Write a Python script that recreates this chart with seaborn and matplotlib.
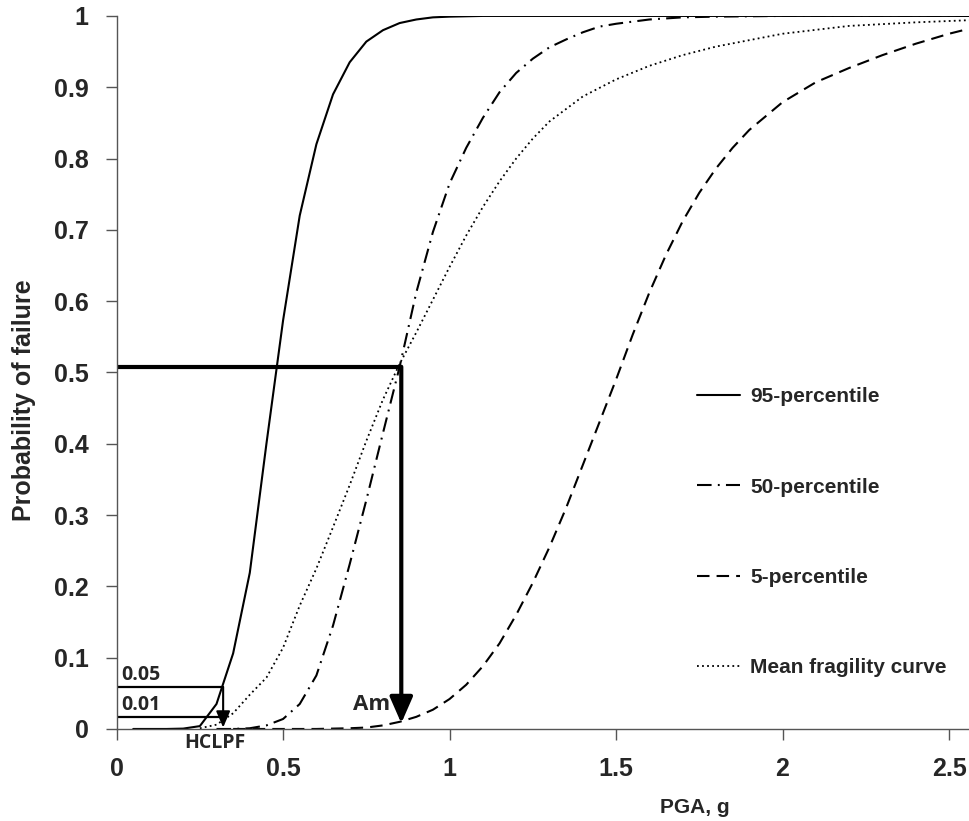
import pandas as pd
import matplotlib
matplotlib.use("Agg")
import matplotlib.pyplot as plt
from matplotlib.ticker import FuncFormatter
import seaborn as sns

# curve values (PGA in g, probability of failure)
pga_95 = [0.05, 0.10, 0.15, 0.20, 0.25, 0.30, 0.35, 0.40, 0.45, 0.50, 0.55, 0.60,
          0.65, 0.70, 0.75, 0.80, 0.85, 0.90, 0.95, 1.00, 1.10, 1.50, 2.00, 2.56]
p_95 = [0.0, 0.0, 0.0, 0.0005, 0.004, 0.035, 0.106, 0.219, 0.40, 0.573, 0.72, 0.82,
        0.89, 0.935, 0.964, 0.98, 0.99, 0.995, 0.998, 0.999, 1.0, 1.0, 1.0, 1.0]

pga_50 = [0.30, 0.35, 0.40, 0.45, 0.50, 0.55, 0.60, 0.65, 0.70, 0.75, 0.80, 0.85,
          0.90, 0.95, 1.00, 1.05, 1.10, 1.15, 1.20, 1.25, 1.30, 1.35, 1.40, 1.45,
          1.50, 1.60, 1.70, 1.80, 2.00, 2.56]
p_50 = [0.0, 0.0, 0.001, 0.005, 0.014, 0.035, 0.075, 0.145, 0.231, 0.321, 0.415, 0.508,
        0.612, 0.697, 0.765, 0.815, 0.857, 0.893, 0.92, 0.94, 0.956, 0.967, 0.977, 0.985,
        0.989, 0.995, 0.998, 0.999, 1.0, 1.0]

pga_5 = [0.35, 0.50, 0.60, 0.70, 0.75, 0.80, 0.85, 0.90, 0.95, 1.00, 1.05, 1.10,
         1.15, 1.20, 1.25, 1.30, 1.35, 1.40, 1.45, 1.50, 1.55, 1.60, 1.65, 1.70,
         1.75, 1.80, 1.85, 1.90, 2.00, 2.10, 2.20, 2.30, 2.40, 2.50, 2.56]
p_5 = [0.0, 0.0, 0.0, 0.001, 0.002, 0.005, 0.010, 0.017, 0.027, 0.042, 0.062, 0.088,
       0.12, 0.16, 0.205, 0.255, 0.31, 0.37, 0.43, 0.49, 0.553, 0.612, 0.665, 0.712,
       0.752, 0.786, 0.815, 0.84, 0.879, 0.907, 0.927, 0.945, 0.961, 0.975, 0.982]

pga_mean = [0.25, 0.30, 0.35, 0.40, 0.45, 0.50, 0.55, 0.60, 0.65, 0.70, 0.75, 0.80,
            0.85, 0.90, 0.95, 1.00, 1.05, 1.10, 1.15, 1.20, 1.25, 1.30, 1.40, 1.50,
            1.60, 1.70, 1.80, 1.90, 2.00, 2.20, 2.40, 2.56]
p_mean = [0.001, 0.006, 0.022, 0.048, 0.072, 0.114, 0.173, 0.225, 0.283, 0.342, 0.404, 0.462,
          0.512, 0.556, 0.602, 0.648, 0.692, 0.732, 0.768, 0.8, 0.828, 0.852, 0.887, 0.911,
          0.93, 0.945, 0.957, 0.966, 0.975, 0.986, 0.991, 0.994]

labels = ["95-percentile", "50-percentile", "5-percentile", "Mean fragility curve"]

# reference marks
am_pga, am_p = 0.855, 0.508
hclpf_pga, p_05, p_01 = 0.32, 0.059, 0.017

x_ticks = [0, 0.5, 1, 1.5, 2, 2.5]
y_ticks = [0, 0.1, 0.2, 0.3, 0.4, 0.5, 0.6, 0.7, 0.8, 0.9, 1]


def main():
    sns.set_style("ticks")
    plt.rcParams['font.family'] = ['Liberation Sans', 'DejaVu Sans']
    plt.rcParams['font.weight'] = 'bold'
    note_font = ["Open Sans", "DejaVu Sans"]

    fig = plt.figure(figsize=(9.7, 8.21), dpi=100)
    ax = fig.add_axes([0.1202, 0.1121, 0.8798, 0.8685])

    styles = [
        dict(lw=1.5, ls="-"),
        dict(lw=1.5, ls=(0, (7, 3, 0.9, 3))),
        dict(lw=1.5, ls=(0, (6, 3.4))),
        dict(lw=1.3, ls=(0, (1, 1.8))),
    ]
    series = [(pga_95, p_95), (pga_50, p_50), (pga_5, p_5), (pga_mean, p_mean)]
    for (xs, ys), lab, st in zip(series, labels, styles):
        df = pd.DataFrame({"PGA": xs, "P": ys})
        sns.lineplot(data=df, x="PGA", y="P", ax=ax, color="black",
                     linewidth=st["lw"], linestyle=st["ls"], label=lab)

    # Am construction
    ax.plot([0, am_pga], [am_p, am_p], color="black", lw=3, solid_capstyle="butt")
    ax.annotate("", xy=(am_pga, 0.008), xytext=(am_pga, am_p),
                arrowprops=dict(arrowstyle="-|>,head_width=0.35,head_length=0.8",
                                lw=3, color="black", mutation_scale=20,
                                shrinkA=0, shrinkB=0))
    ax.text(0.765, 0.034, "Am", fontsize=16, fontweight="bold",
            family=note_font, ha="center", va="center")

    # HCLPF construction
    ax.plot([0, hclpf_pga], [p_05, p_05], color="black", lw=1.6)
    ax.plot([0, hclpf_pga], [p_01, p_01], color="black", lw=1.6)
    ax.annotate("", xy=(hclpf_pga, 0.002), xytext=(hclpf_pga, p_05),
                arrowprops=dict(arrowstyle="-|>,head_width=0.3,head_length=0.7",
                                lw=1.5, color="black", mutation_scale=14,
                                shrinkA=0, shrinkB=0))
    ax.text(0.013, 0.076, "0.05", fontsize=14, fontweight="bold",
            family=note_font, ha="left", va="center")
    ax.text(0.013, 0.033, "0.01", fontsize=14, fontweight="bold",
            family=note_font, ha="left", va="center")
    ax.text(0.296, -0.019, "HCLPF", fontsize=14, fontweight="bold",
            family=note_font, ha="center", va="center", clip_on=False)

    ax.set_xlim(0, 2.563)
    ax.set_ylim(0, 1)
    ax.set_xticks(x_ticks)
    ax.set_yticks(y_ticks)
    fmt = FuncFormatter(lambda v, p: "%g" % v)
    ax.xaxis.set_major_formatter(fmt)
    ax.yaxis.set_major_formatter(fmt)
    ax.tick_params(axis="both", labelsize=18, length=8, width=1, color="#555555", pad=12)

    sns.despine(ax=ax)
    for s in ["left", "bottom"]:
        ax.spines[s].set_color("#555555")
        ax.spines[s].set_linewidth(1)

    ax.set_xlabel("PGA, g", fontsize=15, fontweight="bold")
    ax.set_ylabel("Probability of failure", fontsize=18, fontweight="bold")
    ax.xaxis.set_label_coords(0.677, -0.097)
    ax.yaxis.set_label_coords(-0.094, 0.461)

    ax.legend(loc="upper left", bbox_to_anchor=(0.68, 0.479), frameon=False,
              fontsize=15, labelspacing=3.42, handlelength=2.07, handletextpad=0.48,
              borderpad=0, borderaxespad=0)

    fig.savefig("out.png", dpi=100)
    plt.close(fig)


if __name__ == "__main__":
    main()
